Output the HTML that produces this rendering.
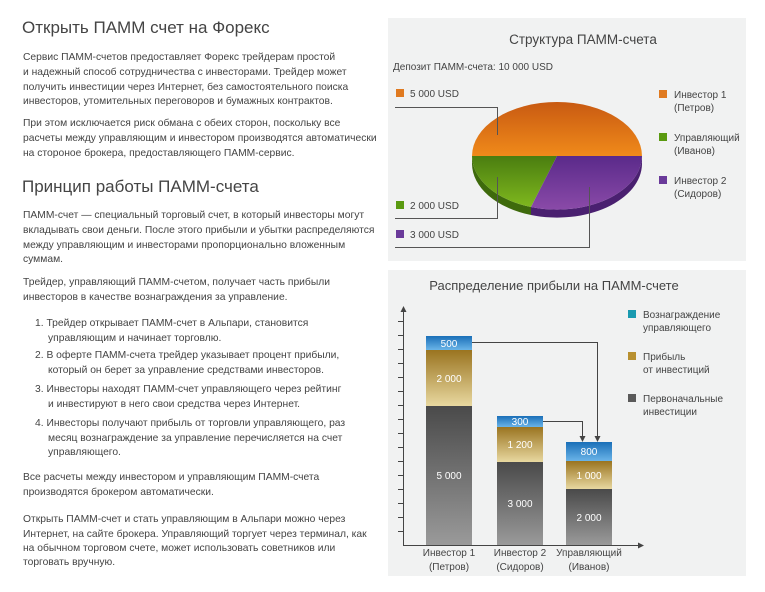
<!DOCTYPE html>
<html><head><meta charset="utf-8"><style>
body{margin:0;width:765px;height:592px;background:#fff;position:relative;overflow:hidden;font-family:"Liberation Sans","DejaVu Sans",sans-serif;color:#444}
.l{position:absolute;white-space:nowrap;font-size:10.3px;line-height:14px}
.h{position:absolute;white-space:nowrap;font-size:17px;color:#444;line-height:22px}
svg{position:absolute;left:0;top:0}
svg text{font-family:"Liberation Sans","DejaVu Sans",sans-serif}
</style></head><body>
<div class="h" style="left:22px;top:17px">Открыть ПАММ счет на Форекс</div>
<div class="l" style="left:23px;top:51px">Сервис ПАММ-счетов предоставляет Форекс трейдерам простой</div>
<div class="l" style="left:23px;top:66px">и надежный способ сотрудничества с инвесторами. Трейдер может</div>
<div class="l" style="left:23px;top:81px">получить инвестиции через Интернет, без самостоятельного поиска</div>
<div class="l" style="left:23px;top:95px">инвесторов, утомительных переговоров и бумажных контрактов.</div>
<div class="l" style="left:23px;top:117px">При этом исключается риск обмана с обеих сторон, поскольку все</div>
<div class="l" style="left:23px;top:132px">расчеты между управляющим и инвестором производятся автоматически</div>
<div class="l" style="left:23px;top:147px">на стороное брокера, предоставляющего ПАММ-сервис.</div>
<div class="h" style="left:22px;top:176px">Принцип работы ПАММ-счета</div>
<div class="l" style="left:23px;top:209px">ПАММ-счет — специальный торговый счет, в который инвесторы могут</div>
<div class="l" style="left:23px;top:224px">вкладывать свои деньги. После этого прибыли и убытки распределяются</div>
<div class="l" style="left:23px;top:239px">между управляющим и инвесторами пропорционально вложенным</div>
<div class="l" style="left:23px;top:253px">суммам.</div>
<div class="l" style="left:23px;top:276px">Трейдер, управляющий ПАММ-счетом, получает часть прибыли</div>
<div class="l" style="left:23px;top:291px">инвесторов в качестве вознаграждения за управление.</div>
<div class="l" style="left:35px;top:317px">1. Трейдер открывает ПАММ-счет в Альпари, становится</div>
<div class="l" style="left:48px;top:332px">управляющим и начинает торговлю.</div>
<div class="l" style="left:35px;top:349px">2. В оферте ПАММ-счета трейдер указывает процент прибыли,</div>
<div class="l" style="left:48px;top:364px">который он берет за управление средствами инвесторов.</div>
<div class="l" style="left:35px;top:383px">3. Инвесторы находят ПАММ-счет управляющего через рейтинг</div>
<div class="l" style="left:48px;top:398px">и инвестируют в него свои средства через Интернет.</div>
<div class="l" style="left:35px;top:417px">4. Инвесторы получают прибыль от торговли управляющего, раз</div>
<div class="l" style="left:48px;top:432px">месяц вознаграждение за управление перечисляется на счет</div>
<div class="l" style="left:48px;top:446px">управляющего.</div>
<div class="l" style="left:23px;top:471px">Все расчеты между инвестором и управляющим ПАММ-счета</div>
<div class="l" style="left:23px;top:486px">производятся брокером автоматически.</div>
<div class="l" style="left:23px;top:513px">Открыть ПАММ-счет и стать управляющим в Альпари можно через</div>
<div class="l" style="left:23px;top:528px">Интернет, на сайте брокера. Управляющий торгует через терминал, как</div>
<div class="l" style="left:23px;top:542px">на обычном торговом счете, может использовать советников или</div>
<div class="l" style="left:23px;top:556px">торговать вручную.</div>

<svg width="765" height="592" viewBox="0 0 765 592">
<defs>
<linearGradient id="or" x1="0" y1="0" x2="0" y2="1"><stop offset="0" stop-color="#c85a12"/><stop offset="1" stop-color="#f08a1a"/></linearGradient>
<linearGradient id="gr" x1="0" y1="0" x2="0" y2="1"><stop offset="0" stop-color="#4a7d10"/><stop offset="1" stop-color="#7fb81e"/></linearGradient>
<linearGradient id="pu" x1="0" y1="0" x2="0" y2="1"><stop offset="0" stop-color="#5a2a8a"/><stop offset="1" stop-color="#8a4aa8"/></linearGradient>
<linearGradient id="gy" x1="0" y1="0" x2="0" y2="1"><stop offset="0" stop-color="#4a4a4a"/><stop offset="1" stop-color="#9a9a9a"/></linearGradient>
<linearGradient id="go" x1="0" y1="0" x2="0" y2="1"><stop offset="0" stop-color="#9a7420"/><stop offset="1" stop-color="#e8d8a0"/></linearGradient>
<linearGradient id="bl" x1="0" y1="0" x2="0" y2="1"><stop offset="0" stop-color="#1a6fb8"/><stop offset="1" stop-color="#6ab4e8"/></linearGradient>
</defs>
<rect x="388" y="18" width="358" height="243" fill="#f1f2f2"/>
<rect x="388" y="270" width="358" height="306" fill="#f1f2f2"/>
<text x="583" y="44" font-size="13.5" fill="#444" text-anchor="middle">Структура ПАММ-счета</text>
<text x="393" y="70" font-size="10" fill="#444">Депозит ПАММ-счета: 10 000 USD</text>
<path d="M472,156 v8 A85,54 0 0 0 531,215 v-8 A85,54 0 0 1 472,156z" fill="#3e6a0c"/>
<path d="M531,207 v8 A85,54 0 0 0 642,164 v-8 A85,54 0 0 1 531,207z" fill="#4a2070"/>
<path d="M557,156 L472,156 A85,54 0 0 1 642,156z" fill="url(#or)"/>
<path d="M557,156 L472,156 A85,54 0 0 0 531,207z" fill="url(#gr)"/>
<path d="M557,156 L531,207 A85,54 0 0 0 642,156z" fill="url(#pu)"/>
<g stroke="#555" stroke-width="1" fill="none">
<path d="M395,107.5 H497.5 V135"/><path d="M395,218.5 H497.5 V177"/><path d="M395,247.5 H589.5 V187"/>
</g>
<g font-size="10" fill="#444">
<rect x="396" y="89" width="8" height="8" fill="#e07a20"/><text x="410" y="97">5 000 USD</text>
<rect x="396" y="201" width="8" height="8" fill="#5a9a10"/><text x="410" y="209">2 000 USD</text>
<rect x="396" y="230" width="8" height="8" fill="#6a3a9a"/><text x="410" y="238">3 000 USD</text>
<rect x="659" y="90" width="8" height="8" fill="#e07a20"/><text x="674" y="98">Инвестор 1</text><text x="674" y="111">(Петров)</text>
<rect x="659" y="133" width="8" height="8" fill="#5a9a10"/><text x="674" y="141">Управляющий</text><text x="674" y="154">(Иванов)</text>
<rect x="659" y="176" width="8" height="8" fill="#6a3a9a"/><text x="674" y="184">Инвестор 2</text><text x="674" y="197">(Сидоров)</text>
</g>
<text x="554" y="290" font-size="13" fill="#444" text-anchor="middle">Распределение прибыли на ПАММ-счете</text>
<g stroke="#444" stroke-width="1">
<line x1="403.5" y1="310" x2="403.5" y2="545"/><line x1="403" y1="545.5" x2="640" y2="545.5"/>
<line x1="398" y1="531.5" x2="403" y2="531.5"/><line x1="398" y1="517.5" x2="403" y2="517.5"/><line x1="398" y1="503.5" x2="403" y2="503.5"/><line x1="398" y1="489.5" x2="403" y2="489.5"/><line x1="398" y1="475.5" x2="403" y2="475.5"/><line x1="398" y1="461.5" x2="403" y2="461.5"/><line x1="398" y1="447.5" x2="403" y2="447.5"/><line x1="398" y1="433.5" x2="403" y2="433.5"/><line x1="398" y1="419.5" x2="403" y2="419.5"/><line x1="398" y1="405.5" x2="403" y2="405.5"/><line x1="398" y1="391.5" x2="403" y2="391.5"/><line x1="398" y1="377.5" x2="403" y2="377.5"/><line x1="398" y1="363.5" x2="403" y2="363.5"/><line x1="398" y1="349.5" x2="403" y2="349.5"/><line x1="398" y1="335.5" x2="403" y2="335.5"/><line x1="398" y1="321.5" x2="403" y2="321.5"/>
</g>
<path d="M403.5,306 l-3,6 h6z M644,545.5 l-6,-3 v6z" fill="#444"/>
<rect x="426" y="336" width="46" height="14" fill="url(#bl)"/><rect x="426" y="350" width="46" height="56" fill="url(#go)"/><rect x="426" y="406" width="46" height="139" fill="url(#gy)"/>
<rect x="497" y="416" width="46" height="11" fill="url(#bl)"/><rect x="497" y="427" width="46" height="35" fill="url(#go)"/><rect x="497" y="462" width="46" height="83" fill="url(#gy)"/>
<rect x="566" y="442" width="46" height="19" fill="url(#bl)"/><rect x="566" y="461" width="46" height="28" fill="url(#go)"/><rect x="566" y="489" width="46" height="56" fill="url(#gy)"/>
<g stroke="#444" fill="none"><path d="M472,342.5 H597.5 V437"/><path d="M543,421.5 H582.5 V437"/></g>
<path d="M594.5,436 h6 l-3,6z M579.5,436 h6 l-3,6z" fill="#444"/>
<g font-size="10" fill="#fff" text-anchor="middle">
<text x="449" y="347">500</text><text x="449" y="382">2 000</text><text x="449" y="479">5 000</text>
<text x="520" y="425">300</text><text x="520" y="448">1 200</text><text x="520" y="507">3 000</text>
<text x="589" y="455">800</text><text x="589" y="479">1 000</text><text x="589" y="521">2 000</text>
</g>
<g font-size="10" fill="#444" text-anchor="middle">
<text x="449" y="556">Инвестор 1</text><text x="449" y="570">(Петров)</text>
<text x="520" y="556">Инвестор 2</text><text x="520" y="570">(Сидоров)</text>
<text x="589" y="556">Управляющий</text><text x="589" y="570">(Иванов)</text>
</g>
<g font-size="10" fill="#444">
<rect x="628" y="310" width="8" height="8" fill="#1a9ab0"/><text x="643" y="318">Вознаграждение</text><text x="643" y="331">управляющего</text>
<rect x="628" y="352" width="8" height="8" fill="#b89030"/><text x="643" y="360">Прибыль</text><text x="643" y="373">от инвестиций</text>
<rect x="628" y="394" width="8" height="8" fill="#5a5a5a"/><text x="643" y="402">Первоначальные</text><text x="643" y="415">инвестиции</text>
</g>
</svg>
</body></html>
